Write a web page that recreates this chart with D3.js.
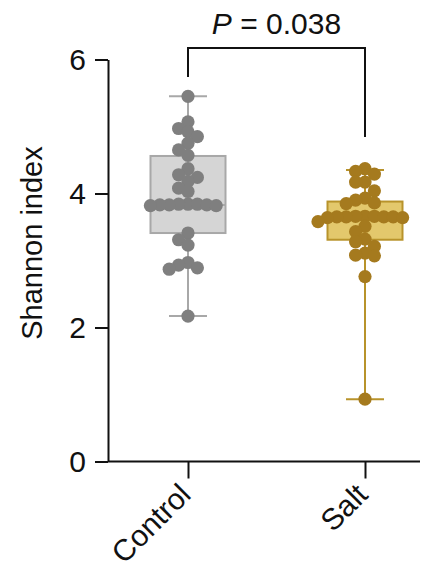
<!DOCTYPE html>
<html>
<head>
<meta charset="utf-8">
<script src="https://cdn.jsdelivr.net/npm/d3@7"></script>
<style>
  body { margin: 0; background: #fff; }
  text { font-family: "Liberation Sans", Arial, sans-serif; }
</style>
</head>
<body>
<div id="chart"></div>
<script>
// groups and the Shannon index of each sample
const groups = ["Control", "Salt"];
const controlValues = [5.45, 5.07, 4.97, 4.92, 4.85, 4.75, 4.65, 4.57, 4.37, 4.28, 4.24, 4.18, 4.08, 4.03,
    3.84, 3.83, 3.84, 3.82, 3.83, 3.84, 3.82, 3.83, 3.41, 3.31, 3.23, 2.97, 2.93, 2.89, 2.87, 2.17];
const saltValues = [4.37, 4.33, 4.29, 4.17, 4.17, 4.04, 3.93, 3.90, 3.86, 3.85,
    3.66, 3.65, 3.65, 3.64, 3.66, 3.65, 3.64, 3.66, 3.65, 3.58, 3.51, 3.43, 3.32, 3.28, 3.21,
    3.11, 3.08, 3.07, 2.76, 0.93];
// box summaries: [min, q1, median, q3, max]
const controlBox = [2.17, 3.41, 3.83, 4.56, 5.45];
const saltBox = [0.93, 3.31, 3.65, 3.88, 4.35];
const yTicks = [0, 2, 4, 6];
const pLabel = "0.038";

const colors = {
    Control: { point: "#7f7f7f", fill: "#d5d5d5", stroke: "#a8a8a8" },
    Salt: { point: "#a57a1e", fill: "#e3c86c", stroke: "#b8932b" }
};

const width = 437, height = 569;
const svg = d3.select("#chart").append("svg")
    .attr("width", width)
    .attr("height", height);

const x = d3.scalePoint().domain(groups).range([188, 365]);
const y = d3.scaleLinear().domain([0, 6]).range([461.5, 59.5]);
const axisLeftX = 108, axisRightX = 420;

const data = [
    { group: "Control", values: controlValues, box: controlBox },
    { group: "Salt", values: saltValues, box: saltBox }
];

// simple beeswarm: each point goes to the nearest free slot from the center
function swarm(values, cx) {
    const step = 9.4, minDist = 9.2;
    const placed = [];
    values.slice().sort((a, b) => b - a).forEach(v => {
        const cy = y(v);
        for (let k = 0; k < 40; k++) {
            const off = k === 0 ? 0 : (k % 2 ? -1 : 1) * Math.ceil(k / 2) * step;
            const px = cx + off;
            const clash = placed.some(p => Math.hypot(p.x - px, p.y - cy) < minDist);
            if (!clash) { placed.push({ x: px, y: cy, v }); break; }
        }
    });
    return placed;
}

const boxW = 75, capW = 38;
data.forEach(d => {
    const cx = x(d.group);
    const c = colors[d.group];
    const g = svg.append("g");
    const [mn, q1, med, q3, mx] = d.box;

    g.append("line").attr("x1", cx).attr("x2", cx).attr("y1", y(mx)).attr("y2", y(mn))
        .attr("stroke", c.stroke).attr("stroke-width", 2);
    [mn, mx].forEach(v => {
        g.append("line").attr("x1", cx - capW / 2).attr("x2", cx + capW / 2)
            .attr("y1", y(v)).attr("y2", y(v))
            .attr("stroke", c.stroke).attr("stroke-width", 2);
    });
    g.append("rect")
        .attr("x", cx - boxW / 2).attr("width", boxW)
        .attr("y", y(q3)).attr("height", y(q1) - y(q3))
        .attr("fill", c.fill).attr("stroke", c.stroke).attr("stroke-width", 2);
    g.append("line").attr("x1", cx - boxW / 2).attr("x2", cx + boxW / 2)
        .attr("y1", y(med)).attr("y2", y(med))
        .attr("stroke", c.stroke).attr("stroke-width", 2);

    g.selectAll("circle")
        .data(swarm(d.values, cx))
        .enter().append("circle")
        .attr("cx", p => p.x)
        .attr("cy", p => p.y)
        .attr("r", 6.6)
        .attr("fill", c.point);
});

// y axis
const yAxis = svg.append("g")
    .attr("transform", `translate(${axisLeftX},0)`)
    .call(d3.axisLeft(y).tickValues(yTicks).tickFormat(d3.format("d"))
        .tickSize(13).tickSizeOuter(0).tickPadding(9));
yAxis.select(".domain").attr("stroke-width", 2).attr("stroke", "#111");
yAxis.selectAll(".tick line").attr("stroke-width", 2).attr("stroke", "#111");
yAxis.selectAll(".tick text").attr("font-size", 30).attr("fill", "#111")
    .attr("font-family", "Liberation Sans, Arial, sans-serif");

// x axis
const xAxis = svg.append("g")
    .attr("transform", `translate(0,${y(0)})`)
    .call(d3.axisBottom(x).tickSize(17).tickSizeOuter(0));
xAxis.select(".domain").remove();
xAxis.append("line").attr("x1", axisLeftX).attr("x2", axisRightX)
    .attr("stroke", "#111").attr("stroke-width", 2);
xAxis.selectAll(".tick line").attr("stroke-width", 2).attr("stroke", "#111");
xAxis.selectAll(".tick text")
    .attr("font-size", 30).attr("fill", "#111")
    .attr("font-family", "Liberation Sans, Arial, sans-serif")
    .style("text-anchor", "end")
    .attr("x", 0).attr("y", 0).attr("dy", 0)
    .attr("transform", "translate(4,35) rotate(-45)");

// y axis title
svg.append("text")
    .attr("transform", `translate(42,243) rotate(-90)`)
    .attr("text-anchor", "middle")
    .attr("font-size", 29)
    .attr("fill", "#111")
    .text("Shannon index");

// significance bracket
const bracketY = 48;
svg.append("path")
    .attr("d", `M${x("Control")},77 V${bracketY} H${x("Salt")} V137`)
    .attr("fill", "none").attr("stroke", "#111").attr("stroke-width", 2);

const pText = svg.append("text")
    .attr("x", (x("Control") + x("Salt")) / 2)
    .attr("y", 34)
    .attr("text-anchor", "middle")
    .attr("font-size", 30)
    .attr("fill", "#111");
pText.append("tspan").attr("font-style", "italic").text("P");
pText.append("tspan").text(" = " + pLabel);
</script>
</body>
</html>
